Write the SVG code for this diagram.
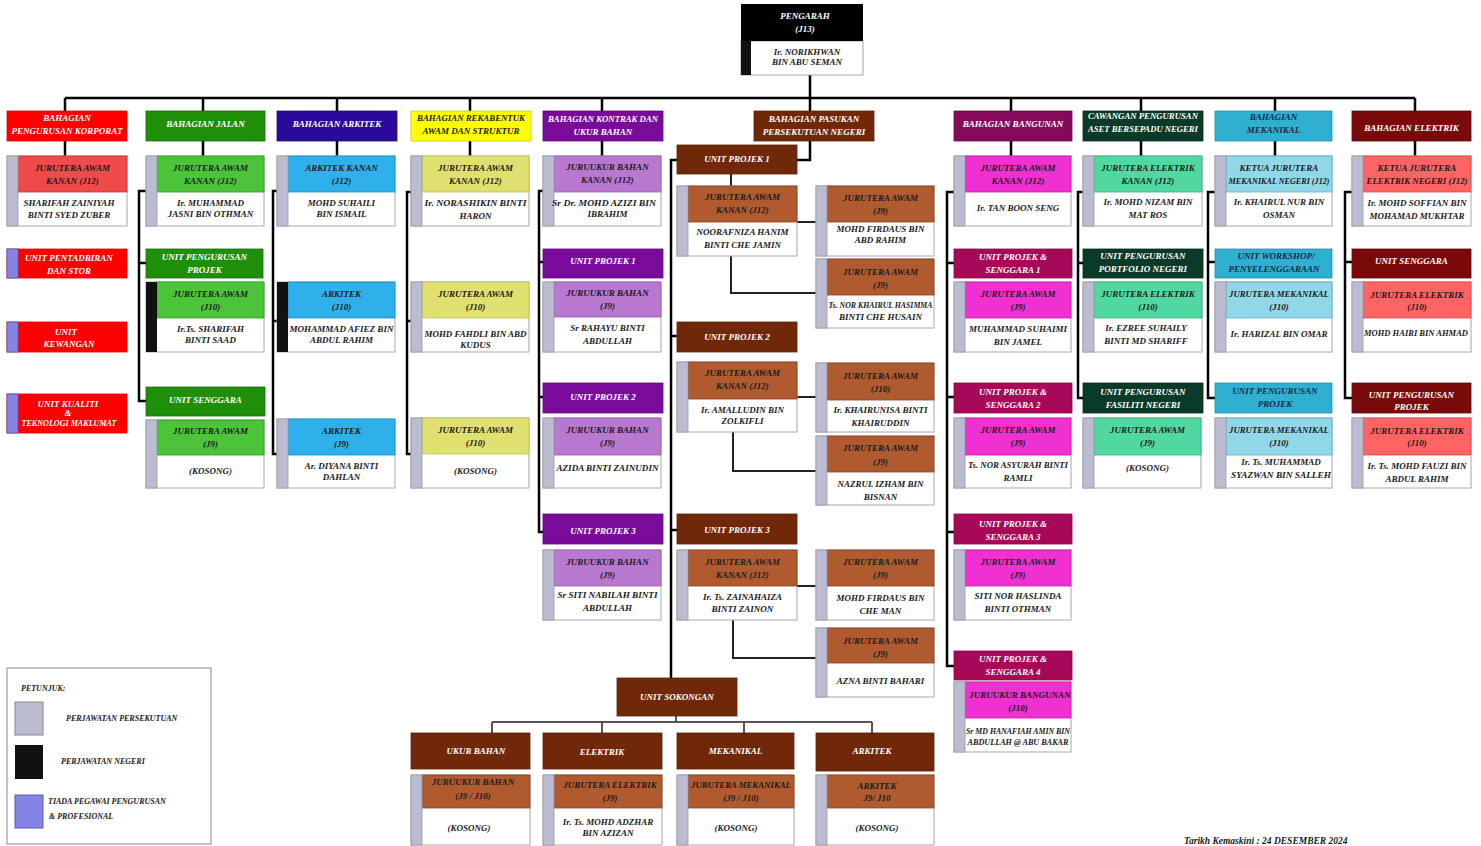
<svg xmlns="http://www.w3.org/2000/svg" width="1481" height="846" viewBox="0 0 1481 846">
<style>
text{font-family:"Liberation Serif","DejaVu Serif",serif;font-weight:bold;font-style:italic;font-size:9px;text-anchor:middle}
.w{fill:#fff}.d{fill:#1a1a1a}.nv{fill:#13284a}
.body{fill:#fff;stroke:#a8a8a8;stroke-width:1}
.s{fill:#bcbcd0;stroke:#9a9ab0;stroke-width:0.8}
.n{fill:#111}
.p{fill:#8484e4;stroke:#5a5ab8;stroke-width:0.8}
.hb{stroke-width:0.8}
.ln{fill:none;stroke:#000;stroke-width:2.5}
.l2{fill:none;stroke:#222;stroke-width:2}
.l3{fill:none;stroke:#555;stroke-width:2}
.lg{text-anchor:start;font-size:8px}
</style>
<rect width="1481" height="846" fill="#fff"/>

<g id="connectors">
<path class="ln" d="M810 75V98M65 98H1415M65 98V111M203 98V111M337 98V111M470 98V111M602 98V111M810 98V111M1011 98V111M1141 98V111M1275 98V111M1415 98V111"/>
<path class="ln" d="M65 141V156M203 141V156M337 141V156M470 141V156M602 141V156M1011 141V156M1141 141V156M1275 141V156M1415 141V156M810 141V160H797"/>
<path class="ln" d="M146 191H139V401H146M139 263H146"/>
<path class="ln" d="M277 191H273V454H277M273 321H277"/>
<path class="ln" d="M411 192H407V454H411M407 321H411"/>
<path class="ln" d="M543 191H539V532H543M539 262H543M539 397H543"/>
<path class="ln" d="M677 160H671V678M671 336H677M671 530H677"/>
<path class="ln" d="M954 192H947V666H954M947 263H954M947 397H954M947 532H954"/>
<path class="ln" d="M1083 192H1078V398H1083M1078 263H1083"/>
<path class="ln" d="M1215 192H1208V398H1215M1208 262H1215"/>
<path class="ln" d="M1352 192H1345V398H1352M1345 262H1352"/>
<path class="l2" d="M731 174V186M797 222H816M731 256V293H816M797 397H816M733 432V471H816M797 586H816M733 620V658H816"/>
<path class="l3" d="M676 716V722M492 722H872M492 722V733M602 722V733M744 722V733M872 722V733"/>
</g>

<g id="pengarah">
<rect x="741" y="41" width="122" height="34" class="body"/>
<rect x="741" y="4" width="122" height="37" fill="#000"/>
<rect x="741" y="41" width="10" height="34" class="n"/>
<text class="w"><tspan x="805" y="19">PENGARAH</tspan><tspan x="805" y="32">(J13)</tspan></text>
<text class="d"><tspan x="807" y="55">Ir. NORIKHWAN</tspan><tspan x="807" y="65">BIN ABU SEMAN</tspan></text>
</g>

<!-- Division headers -->
<g id="div-korporat"><rect x="7" y="111" width="120" height="30" fill="#ff0000" stroke="#d00" class="hb"/><text class="w"><tspan x="67" y="121">BAHAGIAN</tspan><tspan x="67" y="134">PENGURUSAN KORPORAT</tspan></text></g>
<g id="div-jalan"><rect x="146" y="111" width="119" height="30" fill="#1f8f0a" stroke="#176e08" class="hb"/><text class="w" x="205.5" y="127">BAHAGIAN JALAN</text></g>
<g id="div-arkitek"><rect x="277" y="111" width="120" height="30" fill="#2a0a9a" stroke="#200880" class="hb"/><text class="w" x="337" y="127">BAHAGIAN ARKITEK</text></g>
<g id="div-rekabentuk"><rect x="411" y="111" width="120" height="30" fill="#ffff00" stroke="#c8c800" class="hb"/><text class="d"><tspan x="471" y="121" textLength="108" lengthAdjust="spacingAndGlyphs">BAHAGIAN REKABENTUK</tspan><tspan x="471" y="134">AWAM DAN STRUKTUR</tspan></text></g>
<g id="div-kontrak"><rect x="543" y="111" width="120" height="30" fill="#7a0a9a" stroke="#600880" class="hb"/><text class="w"><tspan x="603" y="122" textLength="110" lengthAdjust="spacingAndGlyphs">BAHAGIAN KONTRAK DAN</tspan><tspan x="603" y="135">UKUR BAHAN</tspan></text></g>
<g id="div-pasukan"><rect x="754" y="111" width="120" height="30" fill="#702808" stroke="#5a2006" class="hb"/><text class="w"><tspan x="814" y="122">BAHAGIAN PASUKAN</tspan><tspan x="814" y="135">PERSEKUTUAN NEGERI</tspan></text></g>
<g id="div-bangunan"><rect x="954" y="111" width="118" height="30" fill="#860a5c" stroke="#6a0848" class="hb"/><text class="w" x="1013" y="127">BAHAGIAN BANGUNAN</text></g>
<g id="div-cawangan"><rect x="1083" y="111" width="120" height="30" fill="#0a3a28" stroke="#062a1c" class="hb"/><text class="w"><tspan x="1143" y="119" textLength="110" lengthAdjust="spacingAndGlyphs">CAWANGAN PENGURUSAN</tspan><tspan x="1143" y="132" textLength="110" lengthAdjust="spacingAndGlyphs">ASET BERSEPADU NEGERI</tspan></text></g>
<g id="div-mekanikal"><rect x="1215" y="111" width="117" height="30" fill="#30b0d0" stroke="#2090b0" class="hb"/><text class="nv"><tspan x="1273.5" y="120">BAHAGIAN</tspan><tspan x="1273.5" y="133">MEKANIKAL</tspan></text></g>
<g id="div-elektrik"><rect x="1352" y="111" width="119" height="30" fill="#7a0a0a" stroke="#600808" class="hb"/><text class="w" x="1411.5" y="131">BAHAGIAN ELEKTRIK</text></g>

<!-- Korporat -->
<g id="korporat-j12"><rect x="7" y="156" width="120" height="70" class="body"/><rect x="18" y="156" width="109" height="36" fill="#f04a4a" stroke="#c83030" class="hb"/><rect x="7" y="156" width="11" height="70" class="s"/>
<text class="d"><tspan x="72.5" y="171">JURUTERA AWAM</tspan><tspan x="72.5" y="184">KANAN (J12)</tspan></text>
<text class="d"><tspan x="69" y="206">SHARIFAH ZAINIYAH</tspan><tspan x="69" y="218">BINTI SYED ZUBER</tspan></text></g>
<g id="unit-pentadbiran"><rect x="7" y="249" width="120" height="29" fill="#ff0000" stroke="#d00" class="hb"/><rect x="7" y="249" width="11" height="29" class="p"/><text class="w"><tspan x="69" y="261">UNIT PENTADBIRAN</tspan><tspan x="69" y="274">DAN STOR</tspan></text></g>
<g id="unit-kewangan"><rect x="7" y="322" width="120" height="30" fill="#ff0000" stroke="#d00" class="hb"/><rect x="7" y="322" width="11" height="30" class="p"/><text class="w"><tspan x="66" y="335">UNIT</tspan><tspan x="69" y="347">KEWANGAN</tspan></text></g>
<g id="unit-kualiti"><rect x="7" y="394" width="120" height="39" fill="#ff0000" stroke="#d00" class="hb"/><rect x="7" y="394" width="11" height="39" class="p"/><text class="w"><tspan x="68" y="407">UNIT KUALITI</tspan><tspan x="68" y="416">&amp;</tspan><tspan x="69" y="426" textLength="95" lengthAdjust="spacingAndGlyphs">TEKNOLOGI MAKLUMAT</tspan></text></g>

<!-- Jalan -->
<g id="jalan-j12"><rect x="146" y="156" width="118" height="70" class="body"/><rect x="157" y="156" width="107" height="36" fill="#4cc43a" stroke="#2f9a22" class="hb"/><rect x="146" y="156" width="11" height="70" class="s"/>
<text class="d"><tspan x="210.5" y="171">JURUTERA AWAM</tspan><tspan x="210.5" y="184">KANAN (J12)</tspan></text>
<text class="d"><tspan x="210.5" y="206">Ir. MUHAMMAD</tspan><tspan x="210.5" y="217">JASNI BIN OTHMAN</tspan></text></g>
<g id="jalan-unit-projek"><rect x="146" y="249" width="117" height="29" fill="#1f8f0a" stroke="#176e08" class="hb"/><text class="w"><tspan x="204.5" y="260">UNIT PENGURUSAN</tspan><tspan x="204.5" y="273">PROJEK</tspan></text></g>
<g id="jalan-j10"><rect x="146" y="282" width="118" height="70" class="body"/><rect x="157" y="282" width="107" height="36" fill="#4cc43a" stroke="#2f9a22" class="hb"/><rect x="146" y="282" width="11" height="70" class="n"/>
<text class="d"><tspan x="210.5" y="297">JURUTERA AWAM</tspan><tspan x="210.5" y="310">(J10)</tspan></text>
<text class="d"><tspan x="210.5" y="332">Ir.Ts. SHARIFAH</tspan><tspan x="210.5" y="343">BINTI SAAD</tspan></text></g>
<g id="jalan-unit-senggara"><rect x="146" y="387" width="119" height="29" fill="#1f8f0a" stroke="#176e08" class="hb"/><text class="w" x="205.5" y="403">UNIT SENGGARA</text></g>
<g id="jalan-j9"><rect x="146" y="420" width="118" height="68" class="body"/><rect x="157" y="420" width="107" height="35" fill="#4cc43a" stroke="#2f9a22" class="hb"/><rect x="146" y="420" width="11" height="68" class="s"/>
<text class="d"><tspan x="210.5" y="434">JURUTERA AWAM</tspan><tspan x="210.5" y="447">(J9)</tspan></text>
<text class="d" x="210.5" y="474">(KOSONG)</text></g>

<!-- Arkitek -->
<g id="arkitek-j12"><rect x="277" y="156" width="118" height="70" class="body"/><rect x="288" y="156" width="107" height="36" fill="#30b0ea" stroke="#1890c8" class="hb"/><rect x="277" y="156" width="11" height="70" class="s"/>
<text class="d"><tspan x="341.5" y="171">ARKITEK KANAN</tspan><tspan x="341.5" y="184">(J12)</tspan></text>
<text class="d"><tspan x="341.5" y="206">MOHD SUHAILI</tspan><tspan x="341.5" y="217">BIN ISMAIL</tspan></text></g>
<g id="arkitek-j10"><rect x="277" y="282" width="118" height="70" class="body"/><rect x="288" y="282" width="107" height="36" fill="#30b0ea" stroke="#1890c8" class="hb"/><rect x="277" y="282" width="11" height="70" class="n"/>
<text class="d"><tspan x="341.5" y="332" textLength="104" lengthAdjust="spacingAndGlyphs">MOHAMMAD AFIEZ BIN</tspan><tspan x="341.5" y="343">ABDUL RAHIM</tspan></text>
<text class="d"><tspan x="341.5" y="297">ARKITEK</tspan><tspan x="341.5" y="310">(J10)</tspan></text></g>
<g id="arkitek-j9"><rect x="277" y="419" width="118" height="69" class="body"/><rect x="288" y="419" width="107" height="36" fill="#30b0ea" stroke="#1890c8" class="hb"/><rect x="277" y="419" width="11" height="69" class="s"/>
<text class="d"><tspan x="341.5" y="434">ARKITEK</tspan><tspan x="341.5" y="447">(J9)</tspan></text>
<text class="d"><tspan x="341.5" y="469">Ar. DIYANA BINTI</tspan><tspan x="341.5" y="480">DAHLAN</tspan></text></g>

<!-- Rekabentuk -->
<g id="rekabentuk-j12"><rect x="411" y="156" width="118" height="70" class="body"/><rect x="422" y="156" width="107" height="36" fill="#e0e070" stroke="#c0c050" class="hb"/><rect x="411" y="156" width="11" height="70" class="s"/>
<text class="d"><tspan x="475.5" y="171">JURUTERA AWAM</tspan><tspan x="475.5" y="184">KANAN (J12)</tspan></text>
<text class="d"><tspan x="475.5" y="206" textLength="102" lengthAdjust="spacingAndGlyphs">Ir. NORASHIKIN BINTI</tspan><tspan x="475.5" y="219">HARON</tspan></text></g>
<g id="rekabentuk-j10a"><rect x="411" y="282" width="118" height="70" class="body"/><rect x="422" y="282" width="107" height="36" fill="#e0e070" stroke="#c0c050" class="hb"/><rect x="411" y="282" width="11" height="70" class="s"/>
<text class="d"><tspan x="475.5" y="297">JURUTERA AWAM</tspan><tspan x="475.5" y="310">(J10)</tspan></text>
<text class="d"><tspan x="475.5" y="337" textLength="102" lengthAdjust="spacingAndGlyphs">MOHD FAHDLI BIN ABD</tspan><tspan x="475.5" y="348">KUDUS</tspan></text></g>
<g id="rekabentuk-j10b"><rect x="411" y="418" width="118" height="70" class="body"/><rect x="422" y="418" width="107" height="36" fill="#e0e070" stroke="#c0c050" class="hb"/><rect x="411" y="418" width="11" height="70" class="s"/>
<text class="d"><tspan x="475.5" y="433">JURUTERA AWAM</tspan><tspan x="475.5" y="446">(J10)</tspan></text>
<text class="d" x="475.5" y="474">(KOSONG)</text></g>

<!-- Kontrak -->
<g id="kontrak-j12"><rect x="543" y="156" width="118" height="70" class="body"/><rect x="554" y="156" width="107" height="36" fill="#b878d0" stroke="#9858b0" class="hb"/><rect x="543" y="156" width="11" height="70" class="s"/>
<text class="d"><tspan x="607.5" y="170">JURUUKUR BAHAN</tspan><tspan x="607.5" y="183">KANAN (J12)</tspan></text>
<text class="d"><tspan x="604" y="206" textLength="104" lengthAdjust="spacingAndGlyphs">Sr Dr. MOHD AZIZI BIN</tspan><tspan x="607.5" y="217">IBRAHIM</tspan></text></g>
<g id="kontrak-unit-projek1"><rect x="543" y="249" width="120" height="29" fill="#7a0a9a" stroke="#600880" class="hb"/><text class="w" x="603" y="264">UNIT PROJEK 1</text></g>
<g id="kontrak-p1-j9"><rect x="543" y="282" width="118" height="70" class="body"/><rect x="554" y="282" width="107" height="35" fill="#b878d0" stroke="#9858b0" class="hb"/><rect x="543" y="282" width="11" height="70" class="s"/>
<text class="d"><tspan x="607.5" y="296">JURUUKUR BAHAN</tspan><tspan x="607.5" y="309">(J9)</tspan></text>
<text class="d"><tspan x="607.5" y="331">Sr RAHAYU BINTI</tspan><tspan x="607.5" y="344">ABDULLAH</tspan></text></g>
<g id="kontrak-unit-projek2"><rect x="543" y="383" width="120" height="30" fill="#7a0a9a" stroke="#600880" class="hb"/><text class="w" x="603" y="400">UNIT PROJEK 2</text></g>
<g id="kontrak-p2-j9"><rect x="543" y="418" width="118" height="70" class="body"/><rect x="554" y="418" width="107" height="37" fill="#b878d0" stroke="#9858b0" class="hb"/><rect x="543" y="418" width="11" height="70" class="s"/>
<text class="d"><tspan x="607.5" y="433">JURUUKUR BAHAN</tspan><tspan x="607.5" y="446">(J9)</tspan></text>
<text class="d" x="607.5" y="471" textLength="102" lengthAdjust="spacingAndGlyphs">AZIDA BINTI ZAINUDIN</text></g>
<g id="kontrak-unit-projek3"><rect x="543" y="514" width="120" height="30" fill="#7a0a9a" stroke="#600880" class="hb"/><text class="w" x="603" y="534">UNIT PROJEK 3</text></g>
<g id="kontrak-p3-j9"><rect x="543" y="550" width="118" height="70" class="body"/><rect x="554" y="550" width="107" height="36" fill="#b878d0" stroke="#9858b0" class="hb"/><rect x="543" y="550" width="11" height="70" class="s"/>
<text class="d"><tspan x="607.5" y="565">JURUUKUR BAHAN</tspan><tspan x="607.5" y="578">(J9)</tspan></text>
<text class="d"><tspan x="607.5" y="598" textLength="100" lengthAdjust="spacingAndGlyphs">Sr SITI NABILAH BINTI</tspan><tspan x="607.5" y="611">ABDULLAH</tspan></text></g>

<!-- Pasukan Persekutuan Negeri -->
<g id="pasukan-unit-projek1"><rect x="677" y="145" width="120" height="29" fill="#702808" stroke="#5a2006" class="hb"/><text class="w" x="737" y="162">UNIT PROJEK 1</text></g>
<g id="pasukan-p1-j12"><rect x="677" y="186" width="120" height="70" class="body"/><rect x="688" y="186" width="109" height="36" fill="#b05a30" stroke="#8a4020" class="hb"/><rect x="677" y="186" width="11" height="70" class="s"/>
<text class="d"><tspan x="742.5" y="200">JURUTERA AWAM</tspan><tspan x="742.5" y="213">KANAN (J12)</tspan></text>
<text class="d"><tspan x="742.5" y="235">NOORAFNIZA HANIM</tspan><tspan x="742.5" y="248">BINTI CHE JAMIN</tspan></text></g>
<g id="pasukan-p1-j9a"><rect x="816" y="186" width="118" height="70" class="body"/><rect x="827" y="186" width="107" height="36" fill="#b05a30" stroke="#8a4020" class="hb"/><rect x="816" y="186" width="11" height="70" class="s"/>
<text class="d"><tspan x="880.5" y="201">JURUTERA AWAM</tspan><tspan x="880.5" y="214">(J9)</tspan></text>
<text class="d"><tspan x="880.5" y="232">MOHD FIRDAUS BIN</tspan><tspan x="880.5" y="243">ABD RAHIM</tspan></text></g>
<g id="pasukan-p1-j9b"><rect x="816" y="259" width="118" height="69" class="body"/><rect x="827" y="259" width="107" height="36" fill="#b05a30" stroke="#8a4020" class="hb"/><rect x="816" y="259" width="11" height="69" class="s"/>
<text class="d"><tspan x="880.5" y="275">JURUTERA AWAM</tspan><tspan x="880.5" y="288">(J9)</tspan></text>
<text class="d"><tspan x="880.5" y="308" textLength="104" lengthAdjust="spacingAndGlyphs">Ts. NOR KHAIRUL HASIMMA</tspan><tspan x="880.5" y="320">BINTI CHE HUSAIN</tspan></text></g>
<g id="pasukan-unit-projek2"><rect x="677" y="322" width="120" height="30" fill="#702808" stroke="#5a2006" class="hb"/><text class="w" x="737" y="340">UNIT PROJEK 2</text></g>
<g id="pasukan-p2-j12"><rect x="677" y="362" width="120" height="70" class="body"/><rect x="688" y="362" width="109" height="37" fill="#b05a30" stroke="#8a4020" class="hb"/><rect x="677" y="362" width="11" height="70" class="s"/>
<text class="d"><tspan x="742.5" y="376">JURUTERA AWAM</tspan><tspan x="742.5" y="389">KANAN (J12)</tspan></text>
<text class="d"><tspan x="742.5" y="413">Ir. AMALLUDIN BIN</tspan><tspan x="742.5" y="424">ZOLKIFLI</tspan></text></g>
<g id="pasukan-p2-j10"><rect x="816" y="363" width="118" height="69" class="body"/><rect x="827" y="363" width="107" height="37" fill="#b05a30" stroke="#8a4020" class="hb"/><rect x="816" y="363" width="11" height="69" class="s"/>
<text class="d"><tspan x="880.5" y="379">JURUTERA AWAM</tspan><tspan x="880.5" y="392">(J10)</tspan></text>
<text class="d"><tspan x="880.5" y="413">Ir. KHAIRUNISA BINTI</tspan><tspan x="880.5" y="426">KHAIRUDDIN</tspan></text></g>
<g id="pasukan-p2-j9"><rect x="816" y="436" width="118" height="69" class="body"/><rect x="827" y="436" width="107" height="36" fill="#b05a30" stroke="#8a4020" class="hb"/><rect x="816" y="436" width="11" height="69" class="s"/>
<text class="d"><tspan x="880.5" y="451">JURUTERA AWAM</tspan><tspan x="880.5" y="465">(J9)</tspan></text>
<text class="d"><tspan x="880.5" y="487">NAZRUL IZHAM BIN</tspan><tspan x="880.5" y="500">BISNAN</tspan></text></g>
<g id="pasukan-unit-projek3"><rect x="677" y="514" width="120" height="30" fill="#702808" stroke="#5a2006" class="hb"/><text class="w" x="737" y="533">UNIT PROJEK 3</text></g>
<g id="pasukan-p3-j12"><rect x="677" y="550" width="120" height="70" class="body"/><rect x="688" y="550" width="109" height="36" fill="#b05a30" stroke="#8a4020" class="hb"/><rect x="677" y="550" width="11" height="70" class="s"/>
<text class="d"><tspan x="742.5" y="565">JURUTERA AWAM</tspan><tspan x="742.5" y="578">KANAN (J12)</tspan></text>
<text class="d"><tspan x="742.5" y="600">Ir. Ts. ZAINAHAIZA</tspan><tspan x="742.5" y="612">BINTI ZAINON</tspan></text></g>
<g id="pasukan-p3-j9a"><rect x="816" y="550" width="118" height="70" class="body"/><rect x="827" y="550" width="107" height="36" fill="#b05a30" stroke="#8a4020" class="hb"/><rect x="816" y="550" width="11" height="70" class="s"/>
<text class="d"><tspan x="880.5" y="565">JURUTERA AWAM</tspan><tspan x="880.5" y="578">(J9)</tspan></text>
<text class="d"><tspan x="880.5" y="601">MOHD FIRDAUS BIN</tspan><tspan x="880.5" y="614">CHE MAN</tspan></text></g>
<g id="pasukan-p3-j9b"><rect x="816" y="628" width="118" height="69" class="body"/><rect x="827" y="628" width="107" height="35" fill="#b05a30" stroke="#8a4020" class="hb"/><rect x="816" y="628" width="11" height="69" class="s"/>
<text class="d"><tspan x="880.5" y="644">JURUTERA AWAM</tspan><tspan x="880.5" y="657">(J9)</tspan></text>
<text class="d" x="880.5" y="684">AZNA BINTI BAHARI</text></g>

<!-- Unit Sokongan -->
<g id="unit-sokongan"><rect x="617" y="678" width="120" height="38" fill="#702808" stroke="#5a2006" class="hb"/><text class="w" x="677" y="700">UNIT SOKONGAN</text></g>
<g id="sokongan-ukur"><rect x="411" y="733" width="119" height="36" fill="#702808" stroke="#5a2006" class="hb"/><text class="w" x="476" y="754">UKUR BAHAN</text>
<rect x="411" y="775" width="119" height="70" class="body"/><rect x="422" y="775" width="108" height="33" fill="#b05a30" stroke="#8a4020" class="hb"/><rect x="411" y="775" width="11" height="70" class="s"/>
<text class="d"><tspan x="473" y="785">JURUUKUR BAHAN</tspan><tspan x="473" y="799">(J9 / J10)</tspan></text>
<text class="d" x="469" y="831">(KOSONG)</text></g>
<g id="sokongan-elektrik"><rect x="543" y="733" width="119" height="36" fill="#702808" stroke="#5a2006" class="hb"/><text class="w" x="602" y="755">ELEKTRIK</text>
<rect x="543" y="775" width="119" height="70" class="body"/><rect x="554" y="775" width="108" height="33" fill="#b05a30" stroke="#8a4020" class="hb"/><rect x="543" y="775" width="11" height="70" class="s"/>
<text class="d"><tspan x="610" y="788">JURUTERA ELEKTRIK</tspan><tspan x="610" y="801">(J9)</tspan></text>
<text class="d"><tspan x="608" y="825">Ir. Ts. MOHD ADZHAR</tspan><tspan x="608" y="836">BIN AZIZAN</tspan></text></g>
<g id="sokongan-mekanikal"><rect x="677" y="733" width="117" height="36" fill="#702808" stroke="#5a2006" class="hb"/><text class="w" x="735.5" y="754">MEKANIKAL</text>
<rect x="677" y="775" width="117" height="70" class="body"/><rect x="688" y="775" width="106" height="33" fill="#b05a30" stroke="#8a4020" class="hb"/><rect x="677" y="775" width="11" height="70" class="s"/>
<text class="d"><tspan x="741" y="788" textLength="100" lengthAdjust="spacingAndGlyphs">JURUTERA MEKANIKAL</tspan><tspan x="741" y="801">(J9 / J10)</tspan></text>
<text class="d" x="736" y="831">(KOSONG)</text></g>
<g id="sokongan-arkitek"><rect x="816" y="733" width="118" height="38" fill="#702808" stroke="#5a2006" class="hb"/><text class="w" x="872" y="754">ARKITEK</text>
<rect x="816" y="775" width="118" height="70" class="body"/><rect x="827" y="775" width="107" height="33" fill="#b05a30" stroke="#8a4020" class="hb"/><rect x="816" y="775" width="11" height="70" class="s"/>
<text class="d"><tspan x="877" y="789">ARKITEK</tspan><tspan x="877" y="801">J9/ J10</tspan></text>
<text class="d" x="877" y="831">(KOSONG)</text></g>

<!-- Bangunan -->
<g id="bangunan-j12"><rect x="954" y="156" width="117" height="70" class="body"/><rect x="965" y="156" width="106" height="36" fill="#f030d0" stroke="#c818a8" class="hb"/><rect x="954" y="156" width="11" height="70" class="s"/>
<text class="d"><tspan x="1018" y="171">JURUTERA AWAM</tspan><tspan x="1018" y="184">KANAN (J12)</tspan></text>
<text class="d" x="1018" y="211">Ir. TAN BOON SENG</text></g>
<g id="bangunan-ups1"><rect x="954" y="249" width="118" height="29" fill="#a80858" stroke="#880646" class="hb"/><text class="w"><tspan x="1013" y="260">UNIT PROJEK &amp;</tspan><tspan x="1013" y="273">SENGGARA 1</tspan></text></g>
<g id="bangunan-ups1-j9"><rect x="954" y="282" width="117" height="70" class="body"/><rect x="965" y="282" width="106" height="36" fill="#f030d0" stroke="#c818a8" class="hb"/><rect x="954" y="282" width="11" height="70" class="s"/>
<text class="d"><tspan x="1018" y="297">JURUTERA AWAM</tspan><tspan x="1018" y="310">(J9)</tspan></text>
<text class="d"><tspan x="1018" y="332">MUHAMMAD SUHAIMI</tspan><tspan x="1018" y="345">BIN JAMEL</tspan></text></g>
<g id="bangunan-ups2"><rect x="954" y="383" width="118" height="30" fill="#a80858" stroke="#880646" class="hb"/><text class="w"><tspan x="1013" y="395">UNIT PROJEK &amp;</tspan><tspan x="1013" y="408">SENGGARA 2</tspan></text></g>
<g id="bangunan-ups2-j9"><rect x="954" y="418" width="117" height="70" class="body"/><rect x="965" y="418" width="106" height="37" fill="#f030d0" stroke="#c818a8" class="hb"/><rect x="954" y="418" width="11" height="70" class="s"/>
<text class="d"><tspan x="1018" y="433">JURUTERA AWAM</tspan><tspan x="1018" y="446">(J9)</tspan></text>
<text class="d"><tspan x="1018" y="468" textLength="100" lengthAdjust="spacingAndGlyphs">Ts. NOR ASYURAH BINTI</tspan><tspan x="1018" y="481">RAMLI</tspan></text></g>
<g id="bangunan-ups3"><rect x="954" y="514" width="118" height="30" fill="#a80858" stroke="#880646" class="hb"/><text class="w"><tspan x="1013" y="527">UNIT PROJEK &amp;</tspan><tspan x="1013" y="540">SENGGARA 3</tspan></text></g>
<g id="bangunan-ups3-j9"><rect x="954" y="550" width="117" height="70" class="body"/><rect x="965" y="550" width="106" height="36" fill="#f030d0" stroke="#c818a8" class="hb"/><rect x="954" y="550" width="11" height="70" class="s"/>
<text class="d"><tspan x="1018" y="565">JURUTERA AWAM</tspan><tspan x="1018" y="578">(J9)</tspan></text>
<text class="d"><tspan x="1018" y="599">SITI NOR HASLINDA</tspan><tspan x="1018" y="612">BINTI OTHMAN</tspan></text></g>
<g id="bangunan-ups4"><rect x="954" y="651" width="118" height="29" fill="#a80858" stroke="#880646" class="hb"/><text class="w"><tspan x="1013" y="662">UNIT PROJEK &amp;</tspan><tspan x="1013" y="675">SENGGARA 4</tspan></text></g>
<g id="bangunan-ups4-j10"><rect x="954" y="682" width="117" height="70" class="body"/><rect x="965" y="682" width="106" height="36" fill="#f030d0" stroke="#c818a8" class="hb"/><rect x="954" y="682" width="11" height="70" class="s"/>
<text class="d"><tspan x="1020" y="698">JURUUKUR BANGUNAN</tspan><tspan x="1018" y="711">(J10)</tspan></text>
<text class="d"><tspan x="1018" y="734" textLength="104" lengthAdjust="spacingAndGlyphs">Sr MD HANAFIAH AMIN BIN</tspan><tspan x="1018" y="745" textLength="101" lengthAdjust="spacingAndGlyphs">ABDULLAH @ ABU BAKAR</tspan></text></g>

<!-- Cawangan -->
<g id="cawangan-j12"><rect x="1083" y="156" width="119" height="70" class="body"/><rect x="1094" y="156" width="108" height="36" fill="#50d8a0" stroke="#30b080" class="hb"/><rect x="1083" y="156" width="11" height="70" class="s"/>
<text class="d"><tspan x="1148" y="171">JURUTERA ELEKTRIK</tspan><tspan x="1148" y="184">KANAN (J12)</tspan></text>
<text class="d"><tspan x="1148" y="205">Ir. MOHD NIZAM BIN</tspan><tspan x="1148" y="218">MAT ROS</tspan></text></g>
<g id="cawangan-unit-portfolio"><rect x="1083" y="249" width="120" height="29" fill="#0a3a28" stroke="#062a1c" class="hb"/><text class="w"><tspan x="1143" y="259">UNIT PENGURUSAN</tspan><tspan x="1143" y="272">PORTFOLIO NEGERI</tspan></text></g>
<g id="cawangan-j10"><rect x="1083" y="282" width="119" height="70" class="body"/><rect x="1094" y="282" width="108" height="36" fill="#50d8a0" stroke="#30b080" class="hb"/><rect x="1083" y="282" width="11" height="70" class="s"/>
<text class="d"><tspan x="1148" y="297">JURUTERA ELEKTRIK</tspan><tspan x="1148" y="310">(J10)</tspan></text>
<text class="d"><tspan x="1146" y="331">Ir. EZREE SUHAILY</tspan><tspan x="1146" y="344">BINTI MD SHARIFF</tspan></text></g>
<g id="cawangan-unit-fasiliti"><rect x="1083" y="383" width="120" height="30" fill="#0a3a28" stroke="#062a1c" class="hb"/><text class="w"><tspan x="1143" y="395">UNIT PENGURUSAN</tspan><tspan x="1143" y="408">FASILITI NEGERI</tspan></text></g>
<g id="cawangan-j9"><rect x="1083" y="418" width="118" height="70" class="body"/><rect x="1094" y="418" width="107" height="37" fill="#50d8a0" stroke="#30b080" class="hb"/><rect x="1083" y="418" width="11" height="70" class="s"/>
<text class="d"><tspan x="1147.5" y="433">JURUTERA AWAM</tspan><tspan x="1147.5" y="446">(J9)</tspan></text>
<text class="d" x="1147.5" y="471">(KOSONG)</text></g>

<!-- Mekanikal -->
<g id="mekanikal-j12"><rect x="1215" y="156" width="117" height="70" class="body"/><rect x="1226" y="156" width="106" height="36" fill="#90d8e8" stroke="#60b0c8" class="hb"/><rect x="1215" y="156" width="11" height="70" class="s"/>
<text class="d"><tspan x="1279" y="171">KETUA JURUTERA</tspan><tspan x="1279" y="184" textLength="101" lengthAdjust="spacingAndGlyphs">MEKANIKAL NEGERI (J12)</tspan></text>
<text class="d"><tspan x="1279" y="205">Ir. KHAIRUL NUR BIN</tspan><tspan x="1279" y="218">OSMAN</tspan></text></g>
<g id="mekanikal-unit-workshop"><rect x="1215" y="249" width="117" height="29" fill="#30b0d0" stroke="#2090b0" class="hb"/><text class="nv"><tspan x="1276" y="259">UNIT WORKSHOP/</tspan><tspan x="1274" y="272">PENYELENGGARAAN</tspan></text></g>
<g id="mekanikal-j10a"><rect x="1215" y="282" width="117" height="70" class="body"/><rect x="1226" y="282" width="106" height="36" fill="#90d8e8" stroke="#60b0c8" class="hb"/><rect x="1215" y="282" width="11" height="70" class="s"/>
<text class="d"><tspan x="1279" y="297" textLength="100" lengthAdjust="spacingAndGlyphs">JURUTERA MEKANIKAL</tspan><tspan x="1279" y="310">(J10)</tspan></text>
<text class="d" x="1279" y="337">Ir. HARIZAL BIN OMAR</text></g>
<g id="mekanikal-unit-projek"><rect x="1215" y="383" width="117" height="30" fill="#30b0d0" stroke="#2090b0" class="hb"/><text class="nv"><tspan x="1275" y="394">UNIT PENGURUSAN</tspan><tspan x="1275" y="407">PROJEK</tspan></text></g>
<g id="mekanikal-j10b"><rect x="1215" y="418" width="117" height="70" class="body"/><rect x="1226" y="418" width="106" height="37" fill="#90d8e8" stroke="#60b0c8" class="hb"/><rect x="1215" y="418" width="11" height="70" class="s"/>
<text class="d"><tspan x="1279" y="433" textLength="100" lengthAdjust="spacingAndGlyphs">JURUTERA MEKANIKAL</tspan><tspan x="1279" y="446">(J10)</tspan></text>
<text class="d"><tspan x="1281" y="465">Ir. Ts. MUHAMMAD</tspan><tspan x="1281" y="478" textLength="100" lengthAdjust="spacingAndGlyphs">SYAZWAN BIN SALLEH</tspan></text></g>

<!-- Elektrik -->
<g id="elektrik-j12"><rect x="1352" y="156" width="119" height="70" class="body"/><rect x="1363" y="156" width="108" height="36" fill="#ff6464" stroke="#d84848" class="hb"/><rect x="1352" y="156" width="11" height="70" class="s"/>
<text class="d"><tspan x="1417" y="171">KETUA JURUTERA</tspan><tspan x="1417" y="184" textLength="101" lengthAdjust="spacingAndGlyphs">ELEKTRIK NEGERI (J12)</tspan></text>
<text class="d"><tspan x="1417" y="206">Ir. MOHD SOFFIAN BIN</tspan><tspan x="1417" y="219">MOHAMAD MUKHTAR</tspan></text></g>
<g id="elektrik-unit-senggara"><rect x="1352" y="249" width="119" height="29" fill="#7a0a0a" stroke="#600808" class="hb"/><text class="w" x="1411.5" y="264">UNIT SENGGARA</text></g>
<g id="elektrik-j10a"><rect x="1352" y="282" width="119" height="70" class="body"/><rect x="1363" y="282" width="108" height="36" fill="#ff6464" stroke="#d84848" class="hb"/><rect x="1352" y="282" width="11" height="70" class="s"/>
<text class="d"><tspan x="1417" y="298">JURUTERA ELEKTRIK</tspan><tspan x="1417" y="310">(J10)</tspan></text>
<text class="d" x="1416" y="336" textLength="104" lengthAdjust="spacingAndGlyphs">MOHD HAIRI BIN AHMAD</text></g>
<g id="elektrik-unit-projek"><rect x="1352" y="383" width="119" height="30" fill="#7a0a0a" stroke="#600808" class="hb"/><text class="w"><tspan x="1411.5" y="398">UNIT PENGURUSAN</tspan><tspan x="1411.5" y="410">PROJEK</tspan></text></g>
<g id="elektrik-j10b"><rect x="1352" y="418" width="119" height="70" class="body"/><rect x="1363" y="418" width="108" height="37" fill="#ff6464" stroke="#d84848" class="hb"/><rect x="1352" y="418" width="11" height="70" class="s"/>
<text class="d"><tspan x="1417" y="434">JURUTERA ELEKTRIK</tspan><tspan x="1417" y="446">(J10)</tspan></text>
<text class="d"><tspan x="1417" y="469">Ir. Ts. MOHD FAUZI BIN</tspan><tspan x="1417" y="482">ABDUL RAHIM</tspan></text></g>

<!-- Legend -->
<g id="legend">
<rect x="7" y="668" width="204" height="176" fill="#fff" stroke="#888" stroke-width="1"/>
<text class="d lg" x="21" y="691">PETUNJUK:</text>
<rect x="15" y="702" width="28" height="33" fill="#bcbcd0" stroke="#888"/>
<text class="d lg" x="66" y="721">PERJAWATAN PERSEKUTUAN</text>
<rect x="15" y="745" width="28" height="34" fill="#111"/>
<text class="d lg" x="61" y="764">PERJAWATAN NEGERI</text>
<rect x="15" y="795" width="28" height="33" fill="#8484e4" stroke="#5a5ab8"/>
<text class="d lg" x="48" y="804">TIADA PEGAWAI PENGURUSAN</text>
<text class="d lg" x="49" y="819">&amp; PROFESIONAL</text>
</g>

<text id="tarikh" class="d" x="1184" y="844" style="text-anchor:start;font-size:9.5px">Tarikh Kemaskini : 24 DESEMBER 2024</text>
</svg>
